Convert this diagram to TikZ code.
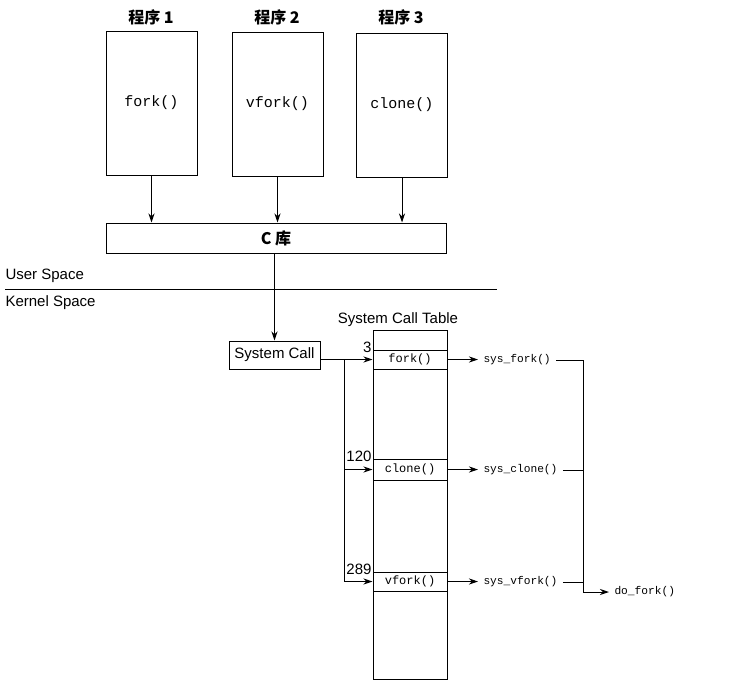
\documentclass[tikz,border=0pt]{standalone}
\usepackage{fontspec}
\setmainfont{Liberation Sans}
\setmonofont{Liberation Mono}
\newfontfamily\cjk{Noto Sans CJK SC}
\usetikzlibrary{arrows.meta}
\tikzset{
	prog/.style={draw,minimum width=91pt,minimum height=144pt,font=\ttfamily\fontsize{15}{15}\selectfont},
	ptitle/.style={font=\cjk\bfseries\fontsize{16}{16}\selectfont},
	tabrow/.style={draw,minimum width=74pt,inner sep=0pt,font=\ttfamily\fontsize{12}{12}\selectfont},
	num/.style={anchor=east,inner xsep=0.5pt,yshift=2pt,font=\fontsize{15}{15}\selectfont},
	fn/.style={anchor=west,inner xsep=5pt,font=\ttfamily\fontsize{11.2}{11.2}\selectfont},
	lbl/.style={font=\fontsize{15}{15}\selectfont},
}
\begin{document}
\begin{tikzpicture}[x=1pt,y=-1pt,>={Stealth[length=9pt,width=6pt]},line width=1pt]
\useasboundingbox (0,0) rectangle (736,696);
\node (P1) at (151.5,103) [prog] {fork()};
\node (P2) at (277.5,104) [prog] {vfork()};
\node (P3) at (402,105) [prog] {clone()};
\node (T1) at (151,17) [ptitle] {程序 1};
\node (T2) at (277,17) [ptitle] {程序 2};
\node (T3) at (401,17) [ptitle] {程序 3};
\node (lib) at (276,238) [draw,minimum width=340pt,minimum height=30pt,ptitle] {C 库};
\draw [->] (P1) -- (P1 |- lib.north);
\draw [->] (P2) -- (P2 |- lib.north);
\draw [->] (P3) -- (P3 |- lib.north);
% user / kernel border
\coordinate (sepL) at (5,289);
\coordinate (sepR) at (497,289);
\draw (sepL) -- (sepR);
\node (us) at (5,276) [anchor=west,inner sep=0pt,lbl] {User Space};
\node (ks) at (5,303) [anchor=west,inner sep=0pt,lbl] {Kernel Space};
\node (sc) at (274.5,355) [draw,minimum width=91pt,minimum height=28pt,inner sep=0pt,lbl] {System Call};
\draw [->] (sc.north |- lib.south) -- (sc);
% system call table
\node (tab) at (410,504.5) [draw,minimum width=74pt,minimum height=349pt] {};
\node (tabT) at (398,320) [lbl] {System Call Table};
\node (rF) at (410,359.5) [tabrow,minimum height=19pt] {fork()};
\node (rC) at (410,469.5) [tabrow,minimum height=21pt] {clone()};
\node (rV) at (410,581.5) [tabrow,minimum height=19pt] {vfork()};
\node (n3) at (rF.north west) [num] {3};
\node (n120) at (rC.north west) [num] {120};
\node (n289) at (rV.north west) [num] {289};
\coordinate (br) at (344,359.5);
\draw [->] (sc.east |- rF) -- (rF.west);
\draw [->] (br) |- (rC.west);
\draw [->] (br) |- (rV.west);
% handlers
\node (sF) at (478,360) [fn] {sys\_fork()};
\node (sC) at (478,470) [fn] {sys\_clone()};
\node (sV) at (478,582) [fn] {sys\_vfork()};
\node (dF) at (609,592) [fn] {do\_fork()};
\draw [->] (rF.east) -- (rF.east -| sF.west);
\draw [->] (rC.east) -- (rC.east -| sC.west);
\draw [->] (rV.east) -- (rV.east -| sV.west);
\coordinate (jn) at (583,592);
\draw [->] (sF.east) -| (jn) -- (dF.west);
\draw (sC.east) -- (sC.east -| jn);
\draw (sV.east) -- (sV.east -| jn);
\end{tikzpicture}
\end{document}
